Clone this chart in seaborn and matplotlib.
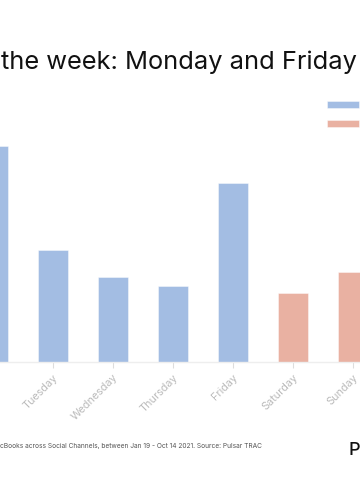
import pandas as pd
import matplotlib.pyplot as plt
import seaborn as sns

# Share of weekly mentions by day
days = ['Monday', 'Tuesday', 'Wednesday', 'Thursday', 'Friday', 'Saturday', 'Sunday']
share = [26.1, 13.5, 10.3, 9.2, 21.6, 8.3, 10.9]
day_type = ['Weekday', 'Weekday', 'Weekday', 'Weekday', 'Weekday', 'Weekend', 'Weekend']

df = pd.DataFrame({'Day': days, 'Share': share, 'Type': day_type})
palette = {'Weekday': '#a3bde3', 'Weekend': '#e9b1a2'}

sns.set_style('white')
plt.rcParams['font.family'] = ['Inter', 'DejaVu Sans']

fig = plt.figure(figsize=(3.6, 5.0), dpi=100)
# the reference is a crop of a wider chart, so the axes run past the figure edges
ax = fig.add_axes([-37 / 360, 1 - 362 / 500, 420 / 360, 248.3 / 500])

sns.barplot(
    data=df, x='Day', y='Share', hue='Type', palette=palette,
    dodge=False, width=0.5, saturation=1, ax=ax,
    edgecolor=(1, 1, 1, 0.5), linewidth=0.6,
)
ax.set_xlim(-0.5, 6.5)
ax.set_ylim(0, 30)

# Axis styling
sns.despine(ax=ax, left=True)
ax.spines['bottom'].set_color('#eeeeee')
ax.spines['bottom'].set_linewidth(1)
ax.set_yticks([])
ax.set_xlabel('')
ax.set_ylabel('')
ax.tick_params(axis='x', colors='#dddddd', length=4, width=0.8, direction='out', bottom=True)
for lab in ax.get_xticklabels():
    lab.set_rotation(45)
    lab.set_ha('right')
    lab.set_rotation_mode('anchor')
    lab.set_color('#bbbbbb')
    lab.set_fontsize(7.8)
    # Monday's label sits outside the cropped view
    if lab.get_text() == 'Monday':
        lab.set_visible(False)

# Legend, its labels fall outside the crop
leg = ax.legend(
    loc='upper left', bbox_to_anchor=(327 / 360, 1 - 100 / 500),
    bbox_transform=fig.transFigure, frameon=False,
    fontsize=7.2, handlelength=3.2, handleheight=0.7,
    labelspacing=0.85, borderpad=0, borderaxespad=0, handletextpad=0.8,
)
for t in leg.get_texts():
    t.set_visible(False)

# Title and footnote
fig.text(1 / 360, 1 - 69 / 500, 'the week: Monday and Friday', fontsize=18.3,
         color='#111111', ha='left', va='baseline')
fig.text(0, 1 - 446 / 500,
         'cBooks across Social Channels, between Jan 19 - Oct 14 2021. Source: Pulsar TRAC',
         fontsize=4.75, color='#555555', ha='left', va='center')
fig.text(348 / 360, 1 - 455 / 500, 'P', fontsize=13, color='#111111',
         ha='left', va='baseline', fontweight='medium')

plt.savefig('out.png', dpi=100)
plt.close()
